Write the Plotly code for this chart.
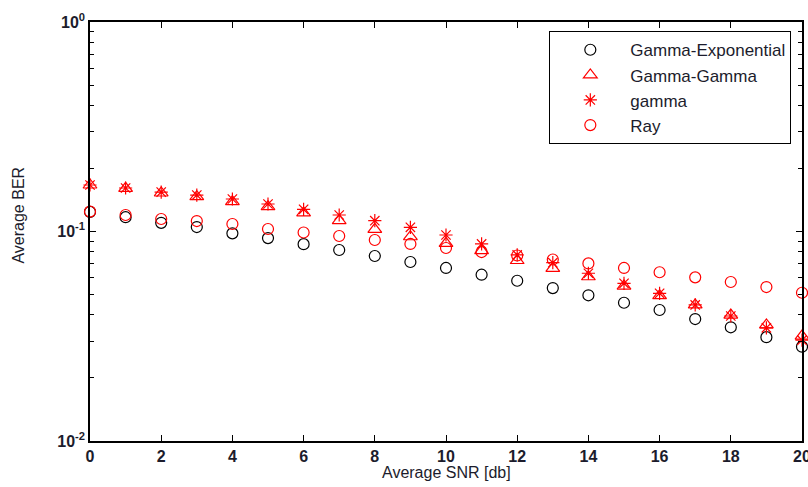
import plotly.graph_objects as go

snr = list(range(0, 21))
gamma_exponential = [0.124, 0.117, 0.110, 0.105, 0.098, 0.093, 0.087, 0.0816, 0.0764, 0.0715, 0.0670,
                     0.0622, 0.0582, 0.0537, 0.0496, 0.0457, 0.0422, 0.0382, 0.0349, 0.0313, 0.0282]
gamma_gamma = [0.1667, 0.1608, 0.1527, 0.1466, 0.1388, 0.1313, 0.1226, 0.1126, 0.1024, 0.0944, 0.0878,
               0.0810, 0.0727, 0.0667, 0.0608, 0.0549, 0.0494, 0.0446, 0.0399, 0.0358, 0.0317]
gamma = [0.1667, 0.1613, 0.1543, 0.1493, 0.1429, 0.1353, 0.1276, 0.1199, 0.1126, 0.1047, 0.0962,
         0.0872, 0.0773, 0.0710, 0.0632, 0.0566, 0.0507, 0.0446, 0.0395, 0.0347, 0.0303]
ray = [0.1244, 0.1199, 0.1147, 0.1122, 0.1086, 0.1028, 0.0989, 0.0952, 0.0911, 0.0872, 0.0834,
       0.0798, 0.0768, 0.0735, 0.0704, 0.0670, 0.0639, 0.0604, 0.0574, 0.0543, 0.0510]

x_ticks = [0, 2, 4, 6, 8, 10, 12, 14, 16, 18, 20]
y_tickvals = [0.01, 0.1, 1]
y_ticktext = ["10<sup>-2</sup>", "10<sup>-1</sup>", "10<sup>0</sup>"]
x_title = "Average SNR [db]"
y_title = "Average BER"

FONT = "Liberation Sans, Arial, sans-serif"
TXT = "#1c1c2c"

fig = go.Figure()
series = [
    ("Gamma-Exponential", gamma_exponential, "circle-open", "black", 11),
    ("Gamma-Gamma", gamma_gamma, "triangle-up-open", "red", 12),
    ("gamma", gamma, "asterisk-open", "red", 11),
    ("Ray", ray, "circle-open", "red", 11),
]
for name, vals, sym, col, sz in series:
    fig.add_trace(go.Scatter(
        x=snr, y=vals, mode="markers", name=name, cliponaxis=False,
        marker=dict(symbol=sym, color=col, size=sz, line=dict(color=col, width=1.2)),
    ))

axis_common = dict(
    showline=True, linecolor="black", linewidth=1.5, mirror="ticks",
    ticks="inside", tickcolor="black", showgrid=False, zeroline=False,
    automargin=False, ticklabeloverflow="allow",
    tickfont=dict(family=FONT, size=16, color=TXT, weight="bold"),
)
fig.update_xaxes(range=[0, 20], tickvals=x_ticks, ticklen=6, **axis_common)
fig.update_yaxes(
    type="log", range=[-2, 0], tickvals=y_tickvals, ticktext=y_ticktext, ticklen=6,
    minor=dict(ticks="inside", ticklen=4, tickcolor="black", dtick="D1", showgrid=False),
    **axis_common,
)
fig.add_annotation(
    text=x_title, xref="paper", yref="paper", x=0.5, y=-0.075,
    xanchor="center", yanchor="middle", showarrow=False,
    font=dict(family=FONT, size=16, color=TXT),
)
fig.add_annotation(
    text=y_title, xref="paper", yref="paper", x=-0.1, y=0.54,
    xanchor="center", yanchor="middle", showarrow=False, textangle=-90,
    font=dict(family=FONT, size=16, color=TXT),
)
fig.update_layout(
    width=808, height=487,
    margin=dict(l=90, r=6, t=22, b=46),
    paper_bgcolor="white", plot_bgcolor="white",
    showlegend=True,
    legend=dict(
        x=0.985, y=0.978, xanchor="right", yanchor="top",
        bgcolor="white", bordercolor="black", borderwidth=1,
        font=dict(family=FONT, size=17, color=TXT),
        itemwidth=70, tracegroupgap=0,
    ),
)
fig.write_html(
    "out.html",
    config={"displayModeBar": False},
    post_script="document.body.style.margin='0';document.body.style.overflow='hidden';",
)
